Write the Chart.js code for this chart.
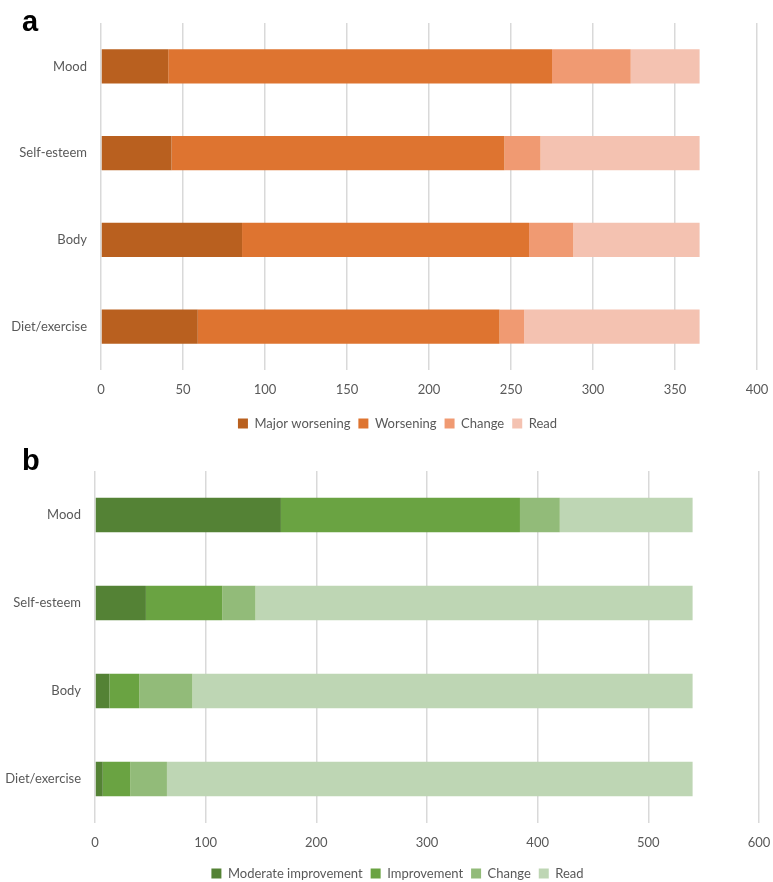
<!DOCTYPE html>
<html>
<head>
<meta charset="utf-8">
<script src="https://cdn.jsdelivr.net/npm/chart.js@4/dist/chart.umd.min.js"></script>
<style>
    body { margin: 0; background: #fff; overflow: hidden; }
    .panel { position: absolute; left: 0; width: 773px; }
    .panel-label { position: absolute; left: 22px; font-family: "Liberation Sans", Arial, sans-serif; font-weight: bold; font-size: 29px; line-height: 1; color: #000; }
</style>
</head>
<body>
<div class="panel" style="top:0px; height:440px;">
    <canvas id="chart-a" width="773" height="440"></canvas>
    <div class="panel-label" style="top:7px;">a</div>
</div>
<div class="panel" style="top:440px; height:450px;">
    <canvas id="chart-b" width="773" height="450"></canvas>
    <div class="panel-label" style="top:6px;">b</div>
</div>
<script>
const categories = ["Mood", "Self-esteem", "Body", "Diet/exercise"];

// Panel a: worsening
const a_labels = ["Major worsening", "Worsening", "Change", "Read"];
const a_major = [41, 43, 86, 59];
const a_worsening = [234, 203, 175, 184];
const a_change = [48, 22, 27, 15];
const a_read = [42, 97, 77, 107];
const a_colors = ["#B9601F", "#DE7430", "#F09A72", "#F4C2B1"];

// Panel b: improvement
const b_labels = ["Moderate improvement", "Improvement", "Change", "Read"];
const b_moderate = [168, 46, 13, 7];
const b_improvement = [216, 69, 27, 25];
const b_change = [36, 30, 48, 33];
const b_read = [120, 395, 452, 475];
const b_colors = ["#548235", "#6AA342", "#92BB79", "#BED6B4"];

const FONT = "Lato, 'Open Sans', sans-serif";
const TEXT_COLOR = "#595959";
const GRID_COLOR = "#D9D9D9";

window.addEventListener("load", () => {
    renderPanel("chart-a", [a_major, a_worsening, a_change, a_read], a_labels, a_colors, {
        max: 400, step: 50, left: 101, right: 16, top: 23, xHeight: 39, xPad: 12, legendShift: 19
    });
    renderPanel("chart-b", [b_moderate, b_improvement, b_change, b_read], b_labels, b_colors, {
        max: 600, step: 100, left: 95, right: 14, top: 31, xHeight: 36, xPad: 12, legendShift: 18
    });
});

function renderPanel(id, series, labels, colors, opts) {
    const ctx = document.getElementById(id);

    let datasets = series.map((values, i) => {
        return {
            label: labels[i],
            data: values,
            backgroundColor: colors[i],
            borderWidth: 0,
            categoryPercentage: 0.8,
            barPercentage: 0.49
        };
    });

    // legend is centred under the plot, not the whole canvas
    const legendShift = {
        id: "legendShift",
        afterLayout: (chart) => {
            chart.legend.left += opts.legendShift;
            chart.legend.right += opts.legendShift;
        }
    };

    new Chart(ctx, {
        type: "bar",
        data: { labels: categories, datasets: datasets },
        plugins: [legendShift],
        options: {
            indexAxis: "y",
            responsive: false,
            animation: false,
            layout: { padding: { top: opts.top, right: opts.right, bottom: 0, left: 0 } },
            plugins: {
                tooltip: { enabled: false },
                legend: {
                    position: "bottom",
                    labels: {
                        color: TEXT_COLOR,
                        font: { family: FONT, size: 13 },
                        boxWidth: 10,
                        boxHeight: 10,
                        padding: 8
                    }
                }
            },
            scales: {
                x: {
                    stacked: true,
                    min: 0,
                    max: opts.max,
                    ticks: { stepSize: opts.step, color: TEXT_COLOR, font: { family: FONT, size: 13 }, padding: opts.xPad },
                    grid: { color: GRID_COLOR, lineWidth: 1.5, drawTicks: false },
                    border: { display: false },
                    afterFit: (scale) => {
                        scale.height = opts.xHeight;
                        scale.paddingLeft = 0;
                        scale.paddingRight = 0;
                    }
                },
                y: {
                    stacked: true,
                    ticks: { color: TEXT_COLOR, font: { family: FONT, size: 13 }, padding: 14 },
                    grid: { display: false, drawTicks: false },
                    border: { display: false },
                    afterFit: (scale) => { scale.width = opts.left; }
                }
            }
        }
    });
}
</script>
</body>
</html>
